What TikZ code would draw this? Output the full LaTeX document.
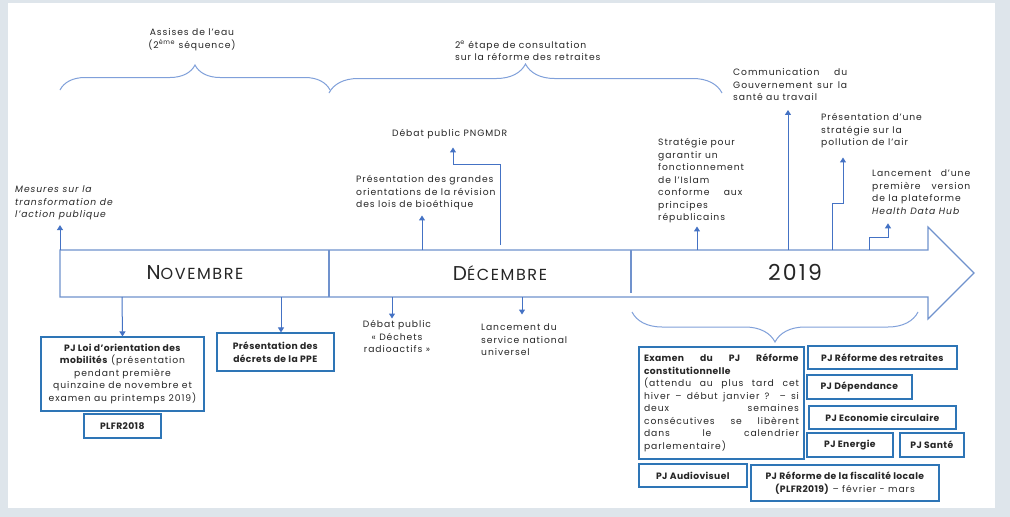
\documentclass[tikz,border=0pt]{standalone}
\usepackage{fontspec}
\setmainfont{Poppins}[LetterSpace=10, BoldFeatures={LetterSpace=4}]
\usepackage{tikz}
\usetikzlibrary{positioning,arrows.meta,decorations.pathreplacing,calc}
\definecolor{pageframe}{RGB}{222,229,235}
\definecolor{lineblue}{RGB}{68,114,196}
\definecolor{bracblue}{RGB}{128,160,218}
\definecolor{arrowblue}{RGB}{112,146,205}
\definecolor{boxblue}{RGB}{46,117,182}
\definecolor{inkgray}{RGB}{38,38,38}
\tikzset{
  note/.style  = {inner sep=0pt, anchor=north west, align=left, text=inkgray, font=\fontsize{9.2}{12.5}\selectfont},
  jnote/.style = {note, align=justify, text width=#1},
  pjbox/.style = {draw=boxblue, line width=1.1pt, fill=white, align=center, text=inkgray, font=\fontsize{9.2}{12.5}\selectfont, inner sep=3pt},
  flow/.style  = {-{Triangle[length=5pt,width=6pt]}, line width=1pt, draw=lineblue},
  brc/.style   = {decorate, decoration={brace, amplitude=#1}, line width=1pt, draw=bracblue},
  month/.style = {text=inkgray, inner sep=0pt},
}
\newcommand\bigsc[2]{{\fontsize{20}{20}\selectfont #1\fontsize{16}{16}\selectfont #2}}

\begin{document}
\begin{tikzpicture}[x=1pt, y=-1pt]
  \fill[pageframe] (0,0) rectangle (1010,517);
  \fill[white] (8,3) rectangle (995,508);

  \draw[arrowblue, line width=1.2pt] (60,250) -- (928,250) -- (928,227) -- (974,273) -- (928,319) -- (928,297) -- (60,297) -- cycle;
  \draw[arrowblue, line width=1.2pt] (329,250) -- (329,297);
  \draw[arrowblue, line width=1.2pt] (631,250) -- (631,293);
  \node[month] (nov) at (195,273) {\bigsc{N}{OVEMBRE}};
  \node[month] (dec) at (500,273) {\bigsc{D}{ÉCEMBRE}};
  \node[month, font=\fontsize{22}{22}\selectfont] (an) at (795,272) {2019};

  \draw[brc=25pt] (60,90) -- (330,90);
  \draw[brc=29pt] (329,93) -- (722,93);
  \draw[brc=30pt] (918,312) -- (632,312);
  \node[note, anchor=north, align=center] (eau) at (192,28.5) {Assises de l’eau\\(2\textsuperscript{ème} séquence)};
  \node[note] (cons) at (455,40.5) {2\textsuperscript{e} étape de consultation\\sur la réforme des retraites};

  \coordinate (t-mes) at (60,250);
  \coordinate (t-bio) at (422,250);
  \coordinate (t-png) at (500,245);
  \coordinate (t-isl) at (697,250);
  \coordinate (t-com) at (788,250);
  \coordinate (t-pol) at (832,250);
  \coordinate (t-hdh) at (869,250);
  \coordinate (b-loi) at (122,297);
  \coordinate (b-ppe) at (281,297);
  \coordinate (b-dec) at (392,297);
  \coordinate (b-snu) at (522,297);
  \coordinate (png-bend) at (453,164);
  \coordinate (pol-bend) at (843,203);
  \coordinate (hdh-bend) at (888,237);

  \node[note, font=\fontsize{9.2}{12.5}\selectfont\itshape] (mes) at (15,185.5) {Mesures sur la\\transformation de\\l’action publique};
  \node[note] (bio) at (356,175.5) {Présentation des grandes\\orientations de la révision\\des lois de bioéthique};
  \node[note] (png) at (392,129.5) {Débat public PNGMDR};
  \node[jnote=84pt] (isl) at (658,138.5) {Stratégie pour\newline garantir un\newline fonctionnement\newline de l’Islam\newline conforme aux\linebreak principes\newline républicains};
  \node[jnote=114pt] (com) at (733,68.5) {Communication du\linebreak Gouvernement sur la\linebreak santé au travail};
  \node[note] (pol) at (821,113.5) {Présentation d’une\\stratégie sur la\\pollution de l’air};
  \node[jnote=98pt] (hdh) at (872,169.5) {Lancement d’une\linebreak première version\linebreak de la plateforme\newline \textit{Health Data Hub}};
  \node[note, anchor=north, align=center] (dech) at (397,320.5) {Débat public\\« Déchets\\radioactifs »};
  \node[note] (snu) at (481,323.5) {Lancement du\\service national\\universel};

  \draw[flow, shorten >=5pt] (t-mes) -- (t-mes |- mes.south);
  \draw[flow, shorten >=5pt] (t-bio) -- (t-bio |- bio.south);
  \draw[flow, shorten >=8pt] (t-png) |- (png-bend) -- (png-bend |- png.south);
  \draw[flow, shorten >=3pt] (t-isl) -- (t-isl |- isl.south);
  \draw[flow, shorten >=9pt] (t-com) -- (t-com |- com.south);
  \draw[flow, shorten >=9pt] (t-pol) |- (pol-bend) -- (pol-bend |- pol.south);
  \draw[flow, shorten >=9pt] (t-hdh) |- (hdh-bend) -- (hdh-bend |- hdh.south);

  \node[pjbox, minimum width=163pt, minimum height=74pt] (loi) at (122.5,374) {\textbf{PJ Loi d’orientation des}\\\textbf{mobilités} (présentation\\pendant première\\quinzaine de novembre et\\examen au printemps 2019)};
  \node[pjbox, minimum width=77pt, minimum height=24pt] (plfr) at (122.5,426) {\textbf{PLFR2018}};
  \node[pjbox, minimum width=117pt, minimum height=38pt] (ppe) at (275.5,352) {\textbf{Présentation des}\\\textbf{décrets de la PPE}};

  \draw[flow] (b-loi) -- (loi.north);
  \draw[flow] (b-ppe) -- (b-ppe |- ppe.north);
  \draw[flow, shorten >=2pt] (b-dec) -- (b-dec |- dech.north);
  \draw[flow, shorten >=9pt] (b-snu) -- (b-snu |- snu.north);

  \node[pjbox, minimum width=165pt, minimum height=112pt, text width=155pt, align=justify] (exa) at (721.5,403) {\textbf{Examen du PJ Réforme}\linebreak\textbf{constitutionnelle}\newline (attendu au plus tard cet\linebreak hiver – début janvier ? – si\linebreak deux semaines\linebreak consécutives se libèrent\linebreak dans le calendrier\linebreak parlementaire)};
  \node[pjbox, minimum width=108pt, minimum height=23pt] (audio) at (693,475.5) {\textbf{PJ Audiovisuel}};
  \node[pjbox, minimum width=188pt, minimum height=36pt] (fisc) at (845,483) {\textbf{PJ Réforme de la fiscalité locale}\\\textbf{(PLFR2019)} – février - mars};
  \node[pjbox, minimum width=149pt, minimum height=23pt] (ret) at (882.5,357.5) {\textbf{PJ Réforme des retraites}};
  \node[pjbox, minimum width=105pt, minimum height=24pt] (dep) at (859.5,387) {\textbf{PJ Dépendance}};
  \node[pjbox, minimum width=147pt, minimum height=23pt] (eco) at (882.5,417.5) {\textbf{PJ Economie circulaire}};
  \node[pjbox, minimum width=86pt, minimum height=24pt] (ener) at (850,445) {\textbf{PJ Energie}};
  \node[pjbox, minimum width=64pt, minimum height=24pt] (sante) at (932,445) {\textbf{PJ Santé}};
\end{tikzpicture}
\end{document}
